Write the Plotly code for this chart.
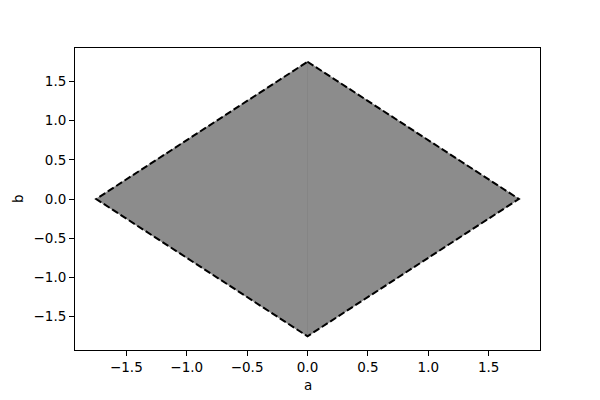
import plotly.graph_objects as go

# diamond vertices (a, b), traced as two halves
right_a = [0.0, 1.75, 0.0, 0.0]
right_b = [1.75, 0.0, -1.75, 1.75]
left_a = [0.0, -1.75, 0.0, 0.0]
left_b = [1.75, 0.0, -1.75, 1.75]
edge_a = [0.0, 1.75, 0.0, -1.75, 0.0]
edge_b = [1.75, 0.0, -1.75, 0.0, 1.75]
ticks = [-1.5, -1.0, -0.5, 0.0, 0.5, 1.0, 1.5]

fig = go.Figure()
for xa, yb in [(left_a, left_b), (right_a, right_b)]:
    fig.add_trace(go.Scatter(
        x=xa, y=yb, mode="lines", fill="toself",
        fillcolor="#8c8c8c", line=dict(color="#838383", width=0.8),
        hoverinfo="skip", showlegend=False
    ))
fig.add_trace(go.Scatter(
    x=edge_a, y=edge_b, mode="lines",
    line=dict(color="black", width=2, dash="7px,3px"),
    showlegend=False
))

axis = dict(
    range=[-1.925, 1.925], tickvals=ticks, tickformat=".1f",
    showgrid=False, zeroline=False, showline=True, mirror=True,
    linecolor="black", linewidth=1, ticks="outside", ticklen=5,
    tickcolor="black", tickfont=dict(size=13.5, color="black"),
    automargin=False,
)
fig.update_xaxes(**axis)
fig.update_yaxes(**axis)
fig.add_annotation(text="a", xref="paper", yref="paper", x=0.5, y=0,
                   yanchor="middle", yshift=-35, showarrow=False,
                   font=dict(size=13.5))
fig.add_annotation(text="b", xref="paper", yref="paper", x=0, y=0.5,
                   xanchor="center", xshift=-57, textangle=-90,
                   showarrow=False, font=dict(size=13.5))
# page body adds an 8px offset, so the figure is 8px smaller
fig.update_layout(
    width=592, height=392,
    margin=dict(l=67, r=60, t=40, b=50),
    plot_bgcolor="white", paper_bgcolor="white",
    font=dict(family="DejaVu Sans", color="black"),
)
fig.write_html("out.html")
